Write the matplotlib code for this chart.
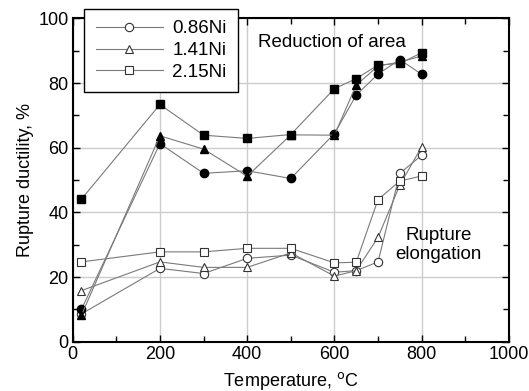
import matplotlib.pyplot as plt
from matplotlib.ticker import MultipleLocator

plt.rcParams['font.family'] = ['Liberation Sans', 'DejaVu Sans']

temps = [20, 200, 300, 400, 500, 600, 650, 700, 750, 800]
labels = ["0.86Ni", "1.41Ni", "2.15Ni"]
markers = ["o", "^", "s"]

# Reduction of area, % (filled markers)
ra_086 = [10.0, 61.3, 52.1, 52.9, 50.5, 64.4, 76.3, 82.8, 87.3, 82.7]
ra_141 = [8.2, 63.7, 59.6, 51.2, 64.0, 63.9, 79.4, 85.3, 86.5, 88.4]
ra_215 = [44.1, 73.4, 63.9, 62.9, 64.1, 78.3, 81.4, 85.6, 86.1, 89.4]

# Rupture elongation, % (open markers)
el_086 = [8.6, 22.7, 21.1, 25.8, 26.8, 21.5, 22.0, 24.7, 52.1, 57.7]
el_141 = [15.8, 24.7, 23.0, 23.0, 27.5, 20.3, 22.0, 32.3, 48.5, 60.3]
el_215 = [24.7, 27.8, 27.8, 28.9, 28.9, 24.4, 24.6, 44.0, 49.7, 51.3]

ra_sets = [ra_086, ra_141, ra_215]
el_sets = [el_086, el_141, el_215]

fig = plt.figure(figsize=(5.29, 3.91), dpi=100)
ax = fig.add_axes([0.1374, 0.126, 0.8246, 0.8267])

line_col = "#7a7a7a"
handles = []
for lab, mk, el in zip(labels, markers, el_sets):
    h, = ax.plot(temps, el, color=line_col, lw=0.8, marker=mk, ms=6,
                 mfc="white", mec="#333333", mew=0.8, label=lab, zorder=3)
    handles.append(h)
for mk, ra in zip(markers, ra_sets):
    ax.plot(temps, ra, color=line_col, lw=0.8, marker=mk, ms=6,
            mfc="black", mec="black", zorder=4)

ax.set_xlim(0, 1000)
ax.set_ylim(0, 100)
ax.xaxis.set_major_locator(MultipleLocator(200))
ax.xaxis.set_minor_locator(MultipleLocator(100))
ax.yaxis.set_major_locator(MultipleLocator(20))
ax.yaxis.set_minor_locator(MultipleLocator(10))
ax.grid(True, which="major", color="#cccccc", lw=1.0, zorder=0)
ax.set_axisbelow(True)
ax.tick_params(which="both", direction="in", top=True, right=True,
               labelsize=13, width=1.0, pad=3)
ax.tick_params(which="major", length=5)
ax.tick_params(which="minor", length=4)
for s in ax.spines.values():
    s.set_linewidth(1.5)

ax.set_xlabel("Temperature, $^{\\rm o}$C", fontsize=13, labelpad=5)
ax.set_ylabel("Rupture ductility, %", fontsize=13, labelpad=3)

ax.text(425, 92.7, "Reduction of area", fontsize=13.5, ha="left", va="center")
ax.text(838, 29.9, "Rupture\nelongation", fontsize=13.5, ha="center",
        va="center", linespacing=1.15)

leg = ax.legend(handles=handles, loc="upper left",
                bbox_to_anchor=(84.3 / 529, 1 - 9 / 391),
                bbox_transform=fig.transFigure, borderaxespad=0,
                fontsize=13.5, handlelength=3.6, labelspacing=0.25,
                fancybox=False, edgecolor="black", framealpha=1,
                borderpad=0.6, handletextpad=0.5)
leg.get_frame().set_linewidth(1.0)
leg.set_zorder(10)

fig.savefig("out.png", dpi=100)
